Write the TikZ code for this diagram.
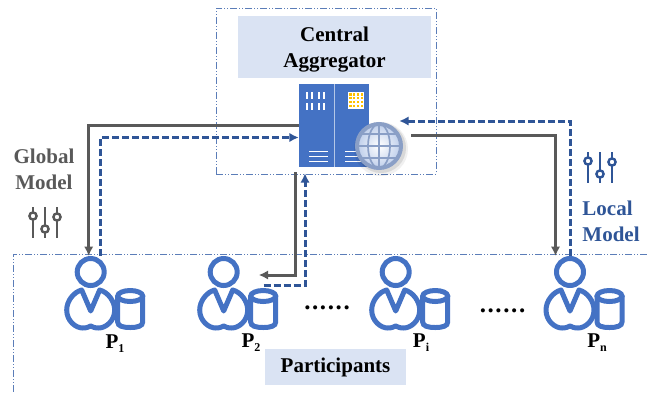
\documentclass[tikz,border=0pt]{standalone}
\usepackage{fontspec}
\setmainfont{Liberation Serif}
\usetikzlibrary{arrows.meta}
\definecolor{iconblue}{HTML}{4472C4}
\definecolor{darkblue}{HTML}{2F5597}
\definecolor{darkgray}{HTML}{595959}
\definecolor{paleblue}{HTML}{DAE3F3}
\definecolor{frameblue}{HTML}{5B7DB8}
\definecolor{globeblue}{HTML}{8A9FC6}
\definecolor{windowdot}{HTML}{FFC000}
\newcommand{\plabel}[1]{P\raisebox{-4.5pt}{\fontsize{12}{12}\selectfont #1}}
\newcommand{\sixdots}{.\hspace{1.6pt}.\hspace{1.6pt}.\hspace{1.6pt}.\hspace{1.6pt}.\hspace{1.6pt}.}
\tikzset{%
  >={Latex[width=9.5pt,length=9.5pt]},
  % Specifications for style of nodes:
  base/.style = {inner sep=0pt, align=center,
                 font=\fontsize{21}{26}\selectfont\bfseries},
  labelbox/.style = {base, fill=paleblue},
  globaltext/.style = {base, text=darkgray},
  localtext/.style = {base, text=darkblue, align=left},
  plabeltext/.style = {base, anchor=base},
  dotstext/.style = {anchor=base, inner sep=0pt, font=\fontsize{25}{26}\selectfont\bfseries},
  % connectors
  globalflow/.style = {->, draw=darkgray, line width=3pt},
  localflow/.style = {->, draw=darkblue, line width=3pt, dash pattern=on 7pt off 3pt},
  frameline/.style = {draw=frameblue, line width=1pt,
                      dash pattern=on 7pt off 2pt on 1pt off 2pt on 1pt off 2pt},
  % sliders icon
  sliders/.pic = {
    \draw[line width=2.8pt] (0,0) -- (0,31) (12,0) -- (12,31) (24,0) -- (24,31);
    \filldraw[fill=white, line width=2.4pt] (0,9) circle (3.6) (12,22) circle (3.6) (24,10) circle (3.6);
  },
  % head is the named node, body and cylinder are drawn round it
  participant/.pic = {
    \node (-head) [circle, draw=iconblue, line width=5pt, minimum size=27pt, inner sep=0pt] at (0,0) {};
    \draw[iconblue, line width=5pt, line join=round]
      (0,39) -- (-9,18) .. controls (-17,20) and (-24,29) .. (-24,38)
      .. controls (-24,49) and (-15,56) .. (-8,56) .. controls (-4,56) and (-2,55) .. (0,54)
      .. controls (2,55) and (4,56) .. (8,56) .. controls (15,56) and (24,49) .. (24,38)
      .. controls (24,29) and (17,20) .. (9,18) -- cycle;
    \draw[iconblue, line width=5pt]
      (27,24) -- (27,50) .. controls (27,54) and (32,55.5) .. (39.5,55.5)
      .. controls (47,55.5) and (52,54) .. (52,50) -- (52,24);
    \draw[iconblue, line width=5pt] (39.5,24) ellipse (12.5 and 5.5);
  }
}

\begin{document}
\begin{tikzpicture}[x=1pt,y=-1pt]
  \useasboundingbox (0,0) rectangle (647,392);

  % frames
  \node (aggframe) [frameline, rectangle, minimum width=220pt, minimum height=166pt] at (326,91) {};
  \draw[frameline] (647,254) -- (13,254) -- (13,392);

  % text boxes
  \node (centralbox) [labelbox, minimum width=193pt, minimum height=62pt] at (334.5,47) {};
  \node (central) [base, yshift=-3pt] at (centralbox) {Central\\Aggregator};
  \node (parts) [labelbox, minimum width=141pt, minimum height=36pt] at (335.5,367) {\raisebox{-1.5pt}{Participants}};
  \node (globallabel) [globaltext] at (44,169) {Global\\Model};
  \node (locallabel) [localtext] at (611,221) {Local\\Model};

  % server
  \node (server) [rectangle, fill=iconblue, minimum width=70pt, minimum height=83pt, inner sep=0pt] at (334,125.5) {};
  \draw[white!60!iconblue, line width=0.8pt] (server.north) -- (server.south);
  \foreach \xbar in {307,312,319,324}
    \foreach \ybar in {92,103}
      \fill[white] (\xbar-1.2,\ybar) rectangle (\xbar+1.2,\ybar+7);
  \foreach \ybar in {151,156,161}{
    \draw[white, line width=1pt] (309,\ybar) -- (328,\ybar);
    \draw[white, line width=1pt] (345,\ybar) -- (365,\ybar);
  }
  \fill[white] (348,92) rectangle (364,109);
  \foreach \xdot in {350.5,354.2,357.9,361.6}
    \foreach \ydot in {94.5,98.2,101.9,105.6}
      \fill[windowdot] (\xdot-1.1,\ydot-1.1) rectangle (\xdot+1.1,\ydot+1.1);

  % globe
  \fill[black, opacity=0.06] (381,149) circle (27);
  \fill[black, opacity=0.10] (381,148) circle (25);
  \node (globe) [circle, draw=globeblue, line width=4pt, minimum size=44pt, inner sep=0pt,
                 inner color=white, outer color=white!65!iconblue] at (379,146) {};
  \begin{scope}[globeblue, line width=1.7pt]
    \draw (globe.north) -- (globe.south);
    \draw (379,146) ellipse (11 and 22);
    \draw (357.5,146) -- (400.5,146);
    \draw (361,134) -- (397,134) (361,158) -- (397,158);
  \end{scope}

  % participants
  \pic (p1) at (90.7,272) {participant};
  \pic (p2) at (223.7,272) {participant};
  \pic (pi) at (395.7,272) {participant};
  \pic (pn) at (570,272) {participant};
  \node (p1label) [plabeltext] at (115,348) {\plabel{1}};
  \node (p2label) [plabeltext] at (251,347) {\plabel{2}};
  \node (pilabel) [plabeltext] at (421,347) {\plabel{i}};
  \node (pnlabel) [plabeltext] at (597,347) {\plabel{n}};
  \node (dotsleft) [dotstext] at (327,309) {\sixdots};
  \node (dotsright) [dotstext] at (502.5,312) {\sixdots};

  % sliders
  \pic[darkgray] at (33,207) {sliders};
  \pic[darkblue] at (588,152) {sliders};

  % flows
  \draw[globalflow] (server.west) -| ([xshift=-2pt]p1-head.north);
  \draw[localflow] ([xshift=10pt]p1-head.north) |- ([yshift=-12pt]server.west);
  \draw[globalflow] ([xshift=-39pt,yshift=-5pt]server.south) |- ([xshift=19pt,yshift=-3pt]p2-head.east);
  \draw[localflow] ([xshift=24pt,yshift=-13.5pt]p2-head.east) -| ([xshift=-29pt,yshift=-6pt]server.south);
  \draw[globalflow] ([xshift=8pt]globe.east |- 0,135.5) -| ([xshift=-14.5pt]pn-head.north);
  \draw[localflow] (pn-head.north) |- ([xshift=30pt,yshift=4.5pt]server.east);
\end{tikzpicture}
\end{document}
